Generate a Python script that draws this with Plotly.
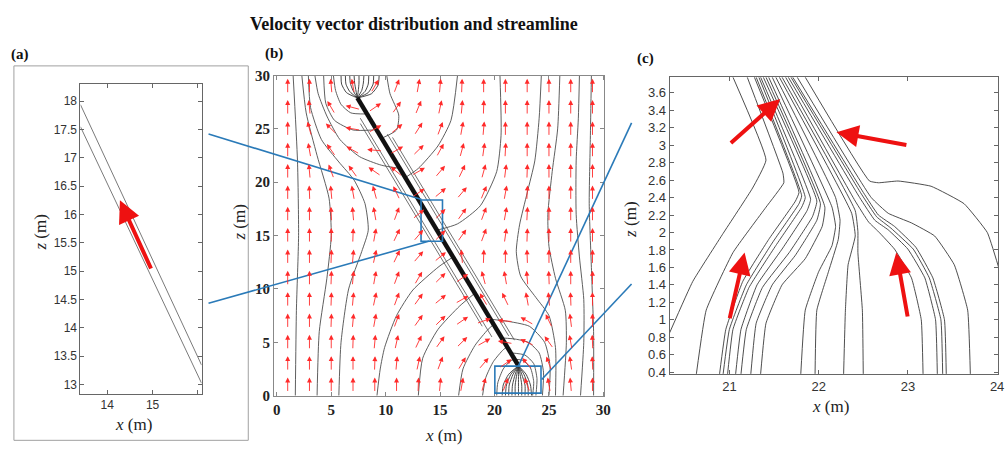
import math
import plotly.graph_objects as go

W, H = 1005, 457

# ---------------- panel (a) data ----------------
A_LINE1_X = [13.41, 16.08]
A_LINE1_Z = [17.94, 13.34]
A_LINE2_X = [13.41, 16.08]
A_LINE2_Z = [17.55, 13.02]
A_ARROW = ((14.98, 15.02), (14.28, 16.25))  # tail, head
A_XTICKS = [14, 15, 16]
A_XTICKTEXT = ["14", "15", ""]
A_ZTICKS = [13, 13.5, 14, 14.5, 15, 15.5, 16, 16.5, 17, 17.5, 18]

# ---------------- panel (b) data ----------------
B_TICKS = [0, 5, 10, 15, 20, 25, 30]
B_ARROW_X = [1, 3, 5, 7, 9, 11, 13, 15, 17, 19, 21, 23, 25, 27, 29]
B_ARROW_Z = [29, 27, 25, 23, 21, 19, 17, 15, 13, 11, 9, 7, 5, 3, 1]
B_ARROW_ANGLE = [
    [90, 90, 95, 100, 60, 70, 80, 85, 88, 90, 90, 90, 90, 90, 90],
    [90, 95, 120, 165, 35, 55, 68, 78, 85, 88, 90, 90, 90, 90, 90],
    [90, 105, 135, 170, 30, 40, 58, 70, 80, 85, 90, 90, 90, 90, 90],
    [90, 100, 125, 150, 175, 30, 45, 62, 75, 82, 87, 90, 90, 90, 90],
    [90, 95, 110, 125, 145, 140, 30, 50, 65, 75, 83, 88, 90, 90, 90],
    [90, 92, 95, 100, 105, 115, 35, 40, 50, 68, 80, 87, 90, 90, 90],
    [90, 90, 92, 95, 100, 70, 40, 45, 55, 70, 80, 87, 90, 90, 90],
    [90, 90, 90, 88, 80, 65, 50, 45, 55, 70, 82, 88, 90, 90, 90],
    [90, 90, 88, 85, 78, 65, 50, 40, 95, 88, 90, 92, 90, 90, 90],
    [90, 90, 88, 85, 80, 70, 60, 45, 35, 105, 100, 95, 92, 90, 90],
    [90, 90, 88, 85, 78, 70, 55, 40, 30, 120, 115, 100, 95, 92, 90],
    [90, 90, 88, 85, 80, 70, 55, 45, 35, 20, 175, 150, 115, 97, 90],
    [90, 90, 90, 88, 85, 78, 65, 55, 45, 30, 170, 155, 125, 100, 92],
    [90, 90, 90, 90, 88, 85, 78, 70, 60, 50, 35, 130, 110, 98, 92],
    [90, 90, 90, 90, 90, 90, 88, 85, 80, 75, 70, 110, 100, 95, 90],
]
B_FRACTURE = ([22.2, 7.4], [2.8, 27.9])
B_OUTER_LEFT = [
    ([1.7, 1.8, 2.0, 1.9, 1.5], [0, 8, 15, 22, 30]),
    ([3.7, 3.9, 4.6, 5.0, 4.8, 3.7, 2.7, 2.3], [0, 6, 11, 15, 18.5, 22.5, 26.5, 30]),
    ([5.7, 5.9, 6.6, 7.8, 8.4, 8.1, 7.1, 5.7, 4.1, 3.1, 2.9],
     [0, 5, 10, 13.5, 15.5, 18, 20.2, 21.9, 24, 27, 30]),
]
B_OUTER_RIGHT = [
    ([29.1, 29.1, 28.9, 28.7, 28.8, 28.9], [0, 6, 12, 18, 24, 30]),
    ([27.9, 28.2, 28.2, 27.8, 27.5, 27.5, 27.7, 27.8], [0, 5, 9, 13, 17, 22, 26, 30]),
    ([26.3, 26.6, 26.5, 25.6, 25.0, 24.9, 25.3, 25.8, 26.0], [0, 5, 8, 11, 14, 17, 21, 25, 30]),
    ([25.6, 25.6, 25.0, 23.8, 22.4, 22.0, 22.3, 23.0, 23.7, 24.1, 24.3],
     [0, 4.5, 7.5, 9.2, 11.2, 13.5, 16, 19, 22, 26, 30]),
]
B_ENTER_LEFT = [
    ([9.2, 9.5, 9.9, 11.0, 12.5, 14.9, 16.2], [0, 2.5, 4.5, 7.5, 9.9, 12.1, 13.0]),
    ([13.0, 13.4, 14.8, 16.8, 18.2], [0, 3.5, 6.2, 8.4, 9.6]),
    ([16.7, 17.1, 18.2, 19.4, 19.95], [0, 2.5, 4.7, 6.2, 6.7]),
    ([18.9, 19.2, 19.9, 20.8, 21.2], [0, 1.7, 3.2, 4.3, 4.6]),
    ([20.2, 20.3, 20.8, 21.4, 21.85], [0, 1.2, 2.5, 3.2, 3.45]),
]
B_ENTER_RIGHT = [
    ([23.5, 23.6, 23.3, 22.6, 22.0], [0, 1.3, 2.6, 3.3, 3.4]),
    ([23.8, 23.9, 23.6, 22.8, 21.6], [0, 1.6, 3.0, 3.8, 4.0]),
    ([24.4, 24.5, 24.1, 23.1, 21.9, 20.8], [0, 2.2, 4.0, 5.0, 5.3, 5.4]),
    ([25.0, 25.1, 24.6, 23.2, 21.0, 19.7], [0, 2.8, 5.0, 6.5, 7.0, 7.15]),
]
B_TIP_BOTTOM = [
    ([20.7, 20.8, 21.3, 22.2], [0, 1.0, 2.0, 2.8]),
    ([21.0, 21.1, 21.5, 22.2], [0, 1.0, 2.0, 2.8]),
    ([21.3, 21.35, 21.7, 22.2], [0, 1.0, 2.0, 2.8]),
    ([21.6, 21.65, 21.9, 22.2], [0, 1.0, 2.0, 2.8]),
    ([21.9, 21.9, 22.05, 22.2], [0, 1.0, 2.0, 2.8]),
    ([22.2, 22.2, 22.2, 22.2], [0, 1.0, 2.0, 2.8]),
    ([22.5, 22.5, 22.35, 22.2], [0, 1.0, 2.0, 2.8]),
    ([22.8, 22.8, 22.5, 22.2], [0, 1.0, 2.0, 2.8]),
    ([23.1, 23.05, 22.7, 22.2], [0, 1.0, 2.0, 2.8]),
    ([23.4, 23.3, 22.9, 22.2], [0, 1.0, 2.0, 2.8]),
]
B_TIP_TOP = [
    ([7.4, 6.4, 5.95, 5.9], [27.9, 28.4, 29.2, 30]),
    ([7.4, 6.7, 6.35, 6.3], [27.9, 28.5, 29.2, 30]),
    ([7.4, 7.0, 6.75, 6.7], [27.9, 28.6, 29.3, 30]),
    ([7.4, 7.25, 7.15, 7.1], [27.9, 28.7, 29.3, 30]),
    ([7.4, 7.5, 7.55, 7.55], [27.9, 28.7, 29.3, 30]),
    ([7.4, 7.8, 7.95, 8.0], [27.9, 28.6, 29.3, 30]),
    ([7.4, 8.1, 8.4, 8.45], [27.9, 28.5, 29.2, 30]),
    ([7.4, 8.4, 8.85, 8.9], [27.9, 28.4, 29.2, 30]),
    ([7.4, 8.7, 9.3, 9.4], [27.9, 28.3, 29.1, 30]),
]
B_EXIT_LEFT = [
    ([11.3, 9.6, 7.6, 5.8, 4.6, 3.8, 3.5], [21.3, 21.6, 22.4, 24.0, 26.2, 28.3, 30]),
    ([8.9, 7.0, 5.3, 4.5, 4.3], [24.9, 24.9, 25.8, 27.4, 30]),
    ([8.2, 6.8, 5.9, 5.4, 5.2], [26.4, 26.5, 27.3, 28.6, 30]),
]
B_EXIT_RIGHT = [
    ([14.7, 16.6, 18.7, 20.2, 20.6, 20.5], [15.5, 16.1, 17.8, 21.0, 24.4, 30]),
    ([11.9, 13.0, 14.8, 16.0, 16.6], [20.5, 21.3, 23.4, 25.8, 30]),
    ([9.8, 11.0, 11.2, 10.4, 10.1], [24.2, 24.9, 26.3, 28.3, 30]),
]
B_PARALLEL = [
    ([21.3, 10.16], [5.6, 24.5]),
    ([21.83, 10.63], [5.2, 24.2]),
    ([19.76, 7.67], [5.5, 26.0]),
    ([18.87, 7.67], [6.5, 25.5]),
]
B_BOX_A = ([13.25, 15.22], [14.47, 18.33])
B_BOX_C = ([20.03, 24.27], [0.24, 2.77])

# ---------------- panel (c) data ----------------
C_XTICKS = [21, 22, 23, 24]
C_ZTICKS = [0.4, 0.6, 0.8, 1.0, 1.2, 1.4, 1.6, 1.8, 2.0, 2.2, 2.4, 2.6, 2.8, 3.0, 3.2, 3.4, 3.6]
C_LINES = [
    ([20.33, 20.59, 20.93, 21.26, 21.41, 21.04], [0.85, 1.44, 1.99, 2.51, 2.83, 3.78]),
    ([20.63, 20.74, 21.04, 21.41, 21.61, 21.60, 21.20], [0.38, 1.11, 1.77, 2.29, 2.57, 2.68, 3.78]),
    ([20.89, 20.96, 21.15, 21.44, 21.74, 21.78, 21.28], [0.38, 0.89, 1.44, 1.92, 2.36, 2.46, 3.78]),
    ([20.93, 21.0, 21.19, 21.48, 21.78, 21.81, 21.30], [0.38, 0.89, 1.40, 1.88, 2.33, 2.42, 3.78]),
    ([20.98, 21.04, 21.22, 21.52, 21.81, 21.85, 21.33], [0.38, 0.89, 1.37, 1.85, 2.29, 2.40, 3.78]),
    ([21.07, 21.13, 21.31, 21.59, 21.87, 21.91, 21.35], [0.38, 0.89, 1.40, 1.81, 2.25, 2.38, 3.78]),
    ([21.13, 21.19, 21.37, 21.67, 21.93, 21.98, 21.38], [0.38, 0.89, 1.37, 1.77, 2.18, 2.36, 3.78]),
    ([21.24, 21.30, 21.48, 21.74, 21.98, 22.02, 21.41], [0.38, 0.96, 1.40, 1.74, 2.14, 2.33, 3.78]),
    ([21.35, 21.41, 21.59, 21.85, 22.04, 22.07, 21.44], [0.38, 0.96, 1.40, 1.70, 2.07, 2.29, 3.78]),
    ([21.80, 21.85, 22.0, 22.15, 22.19, 22.15, 21.48], [0.38, 1.11, 1.55, 1.85, 2.07, 2.29, 3.78]),
    ([21.96, 21.98, 22.11, 22.22, 22.24, 22.19, 21.52], [0.38, 1.11, 1.55, 1.92, 2.14, 2.40, 3.78]),
    ([22.28, 22.30, 22.33, 22.41, 22.37, 21.56], [0.38, 1.11, 1.63, 1.96, 2.22, 3.78]),
    ([22.5, 22.49, 22.44, 22.44, 22.41, 21.59], [0.38, 1.11, 1.77, 2.01, 2.25, 3.78]),
    ([23.17, 23.15, 23.04, 22.85, 22.67, 22.56, 22.41, 21.63], [0.38, 1.0, 1.48, 1.81, 2.01, 2.12, 2.36, 3.78]),
    ([23.33, 23.31, 23.19, 23.0, 22.78, 22.63, 22.46, 21.66], [0.38, 1.0, 1.48, 1.81, 2.03, 2.14, 2.40, 3.78]),
    ([23.39, 23.37, 23.24, 23.06, 22.81, 22.65, 22.48, 21.69], [0.38, 1.0, 1.48, 1.81, 2.05, 2.18, 2.44, 3.78]),
    ([23.43, 23.41, 23.28, 23.09, 22.85, 22.67, 22.50, 21.71], [0.38, 1.0, 1.48, 1.83, 2.07, 2.20, 2.46, 3.78]),
    ([23.70, 23.67, 23.52, 23.30, 23.04, 22.78, 22.59, 21.76], [0.38, 1.11, 1.63, 1.96, 2.11, 2.22, 2.40, 3.78]),
    ([24.02, 23.89, 23.63, 23.26, 22.89, 22.67, 22.57, 21.85], [1.59, 2.0, 2.33, 2.53, 2.59, 2.57, 2.59, 3.78]),
]
C_ARROWS = [
    ((21.0, 3.01), (21.57, 3.53)),
    ((23.0, 3.0), (22.20, 3.15)),
    ((21.0, 1.0), (21.17, 1.77)),
    ((23.0, 1.02), (22.87, 1.77)),
]

STREAM = "#4d4d4d"
RED = "#ff2a2a"
BLUE = "#2a7ab8"

fig = go.Figure()


def add_line(xs, zs, axes, color=STREAM, width=0.9, shape="spline", smoothing=0.6):
    fig.add_trace(go.Scatter(
        x=xs, y=zs, xaxis=axes[0], yaxis=axes[1], mode="lines",
        line=dict(color=color, width=width, shape=shape, smoothing=smoothing),
        hoverinfo="skip", showlegend=False))


# panel (a)
add_line(A_LINE1_X, A_LINE1_Z, ("x", "y"), color="#7a7a7a", width=1, shape="linear")
add_line(A_LINE2_X, A_LINE2_Z, ("x", "y"), color="#7a7a7a", width=1, shape="linear")

# panel (b)
for grp in (B_OUTER_LEFT, B_OUTER_RIGHT, B_ENTER_LEFT, B_ENTER_RIGHT,
            B_EXIT_LEFT, B_EXIT_RIGHT):
    for xs, zs in grp:
        add_line(xs, zs, ("x2", "y2"))
for xs, zs in B_PARALLEL:
    add_line(xs, zs, ("x2", "y2"), width=0.8, shape="linear")
for xs, zs in B_TIP_BOTTOM + B_TIP_TOP:
    add_line(xs, zs, ("x2", "y2"), color="#333333", width=0.9)
add_line(B_FRACTURE[0], B_FRACTURE[1], ("x2", "y2"), color="#111111", width=4.5, shape="linear")

# panel (c)
for xs, zs in C_LINES:
    add_line(xs, zs, ("x3", "y3"), color="#3a3a3a", width=0.9, smoothing=0.35)

annotations = []
# vector arrows in (b)
HALF = 0.7
for zi, z in enumerate(B_ARROW_Z):
    for xi, x in enumerate(B_ARROW_X):
        a = math.radians(B_ARROW_ANGLE[zi][xi])
        dx, dz = HALF * math.cos(a), HALF * math.sin(a)
        annotations.append(dict(
            x=x + dx, y=z + dz, ax=x - dx, ay=z - dz,
            xref="x2", yref="y2", axref="x2", ayref="y2",
            text="", showarrow=True, arrowhead=2, arrowsize=1.1,
            arrowwidth=0.9, arrowcolor=RED, standoff=0, startstandoff=0))

# big arrows in (a) and (c)
for (t, h), xr, yr in [(A_ARROW, "x", "y")] + [(c, "x3", "y3") for c in C_ARROWS]:
    annotations.append(dict(
        x=h[0], y=h[1], ax=t[0], ay=t[1], xref=xr, yref=yr, axref=xr, ayref=yr,
        text="", showarrow=True, arrowhead=2, arrowsize=1.1, arrowwidth=4,
        arrowcolor="#ee1111", standoff=0, startstandoff=0))

SERIF = "Liberation Serif"


def txt(x, y, s, size=17, angle=0, bold=False, color="#222", family=SERIF):
    annotations.append(dict(
        x=x / W, y=1 - y / H, xref="paper", yref="paper", text=s, showarrow=False,
        textangle=angle, xanchor="center", yanchor="middle",
        font=dict(family=family, size=size, color=color,
                  weight="bold" if bold else "normal")))


txt(416, 17, "Velocity vector distribution and streamline", size=18, bold=True, color="#111")
txt(19, 48, "(a)", size=15, bold=True, color="#111")
txt(275, 47, "(b)", size=15, bold=True, color="#111")
txt(649, 52, "(c)", size=15, bold=True, color="#111")
# axis titles
txt(133, 432, "<i>x</i> (m)")
txt(40, 233, "<i>z</i> (m)", angle=-90)
txt(446, 443, "<i>x</i> (m)")
txt(240, 222, "<i>z</i> (m)", angle=-90)
txt(835, 413, "<i>x</i> (m)")
txt(634, 220, "<i>z</i> (m)", angle=-90)

shapes = []
# outer frame of (a)
shapes.append(dict(type="rect", xref="paper", yref="paper", x0=13 / W, x1=249 / W,
                   y0=1 - 448 / H, y1=1 - 60 / H, line=dict(color="#a0a0a0", width=1)))
# blue boxes in (b)
for bx, bz in (B_BOX_A, B_BOX_C):
    shapes.append(dict(type="rect", xref="x2", yref="y2", x0=bx[0], x1=bx[1],
                       y0=bz[0], y1=bz[1], line=dict(color=BLUE, width=1.6)))
# connector lines
for (x0, y0), (x1, y1) in [((209, 130.5), (423.5, 198.5)), ((209, 306), (431.5, 241.5)),
                           ((521, 371), (635, 119)), ((544.5, 385), (635, 286))]:
    shapes.append(dict(type="line", xref="paper", yref="paper", x0=x0 / W, y0=1 - y0 / H,
                       x1=x1 / W, y1=1 - y1 / H, line=dict(color=BLUE, width=1.6)))

sans_tick = dict(family="Liberation Sans", size=12, color="#333")
serif_tick = dict(family=SERIF, size=15, color="#222", weight="bold")


def axis(domain, rng, anchor, tickvals, font, ticktext=None, color="#888"):
    d = dict(domain=domain, range=rng, anchor=anchor, tickvals=tickvals, ticks="inside",
             ticklen=4, tickcolor=color, showline=True, linecolor=color, linewidth=1,
             mirror="ticks", showgrid=False, zeroline=False, tickfont=font, fixedrange=True)
    if ticktext is not None:
        d["ticktext"] = ticktext
    return d


fig.update_layout(
    width=W, height=H, margin=dict(l=0, r=0, t=0, b=0),
    paper_bgcolor="white", plot_bgcolor="white", showlegend=False,
    xaxis=axis([80 / W, 202 / W], [13.41, 16.08], "y", A_XTICKS, sans_tick, A_XTICKTEXT, "#666"),
    yaxis=axis([1 - 400 / H, 1 - 79 / H], [12.83, 18.30], "x", A_ZTICKS, sans_tick, None, "#666"),
    xaxis2=axis([275 / W, 607.7 / W], [-0.25, 30.1], "y2", B_TICKS, serif_tick),
    yaxis2=axis([1 - 401.7 / H, 1 - 70 / H], [0, 30], "x2", B_TICKS, serif_tick),
    xaxis3=axis([673.3 / W, 1004 / W], [20.33, 24.01], "y3", C_XTICKS,
                dict(family="Liberation Sans", size=13, color="#333"), None, "#666"),
    yaxis3=axis([1 - 379.3 / H, 1 - 71.7 / H], [0.378, 3.78], "x3", C_ZTICKS,
                dict(family="Liberation Sans", size=13, color="#333"), None, "#666"),
    annotations=annotations, shapes=shapes,
)

fig.write_html("out.html")
